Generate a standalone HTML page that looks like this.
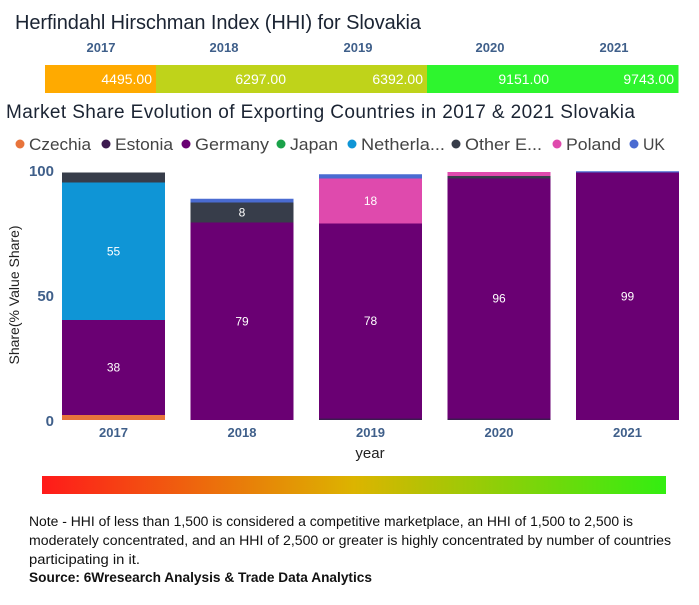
<!DOCTYPE html>
<html><head><meta charset="utf-8"><style>
body{margin:0;width:699px;height:600px;background:#fff;font-family:"Liberation Sans",sans-serif;overflow:hidden}
svg text{font-family:"Liberation Sans",sans-serif}
</style></head><body>
<svg id="c" width="699" height="600">
<text x="15" y="29" font-size="20" fill="#1b2433" textLength="406">Herfindahl Hirschman Index (HHI) for Slovakia</text>
<g id="hhi"></g>
<text x="6" y="118" font-size="19" fill="#1b2433" textLength="629">Market Share Evolution of Exporting Countries in 2017 &amp; 2021 Slovakia</text>
<g id="legend"></g>
<g id="plot"></g>
<text transform="translate(19,295) rotate(-90)" text-anchor="middle" font-size="14" fill="#222">Share(% Value Share)</text>
<text x="370" y="458" text-anchor="middle" font-size="15" fill="#222">year</text>
<defs><linearGradient id="g" x1="0" x2="1"><stop offset="0" stop-color="#ff1a1a"/><stop offset="0.5" stop-color="#dcb400"/><stop offset="1" stop-color="#33ee11"/></linearGradient></defs>
<rect x="42" y="476" width="624" height="18" fill="url(#g)"/>
<text font-size="13.5" fill="#111"><tspan x="29" y="526" textLength="604" lengthAdjust="spacingAndGlyphs">Note - HHI of less than 1,500 is considered a competitive marketplace, an HHI of 1,500 to 2,500 is</tspan><tspan x="29" y="545" textLength="642" lengthAdjust="spacingAndGlyphs">moderately concentrated, and an HHI of 2,500 or greater is highly concentrated by number of countries</tspan><tspan x="29" y="564" textLength="111" lengthAdjust="spacingAndGlyphs">participating in it.</tspan></text>
<text x="29" y="582" font-size="13.5" font-weight="bold" fill="#111" textLength="343" lengthAdjust="spacingAndGlyphs">Source: 6Wresearch Analysis &amp; Trade Data Analytics</text>
</svg>
<script>
const years=["2017","2018","2019","2020","2021"];
const hhiValues=[4495,6297,6392,9151,9743];
const series=["Czechia","Estonia","Germany","Japan","Netherla...","Other E...","Poland","UK"];
const colors=["#e8743b","#3c1a4f","#6a0073","#1aa24a","#0f95d6","#373d4a","#df4aad","#4a6bd1"];
const czechia=[2,0,0,0,0];
const estonia=[0,0,0.6,0.6,0];
const germany=[38,79,78,96,99];
const japan=[0,0,0,0,0];
const netherlands=[55,0,0,0,0];
const other=[4,8,0,1,0];
const poland=[0,0,18,1.6,0];
const uk=[0,1.5,1.7,0,0.5];
const labelThreshold=5;
const NS="http://www.w3.org/2000/svg";
function mk(t,a,p){const e=document.createElementNS(NS,t);for(const k in a)e.setAttribute(k,a[k]);p.appendChild(e);return e;}
const hhi=document.getElementById('hhi');
const sx0=45;
function hhiColor(v){return v<5000?"#ffaa00":v<8000?"#bfd31a":"#2ef52e";}
const hx=[156,290,427,553,678];
const hyl=[101,224,358,490,614];
years.forEach((y,i)=>{
 const x0=i?hx[i-1]:sx0, x1=hx[i];
 const r=mk('rect',{x:x0,y:65,width:x1-x0+0.5,height:28,fill:hhiColor(hhiValues[i])},hhi);
 
 
 const t=mk('text',{x:x1-4,y:84,'text-anchor':'end','font-size':14,fill:'#fff'},hhi);t.textContent=hhiValues[i].toFixed(2);
 
 
 const yl=mk('text',{x:hyl[i],y:52,'text-anchor':'middle','font-size':13,'font-weight':'bold',fill:'#3f5f8a'},hhi);yl.textContent=y;
 
 
});
const lg=document.getElementById('legend');
const lx=[20,106,186,281,352,456,557,634];
const lw=[62,58,74,48,84,77,55,22];
series.forEach((s,i)=>{
 const g=mk('g',{},lg);
 
 
 mk('circle',{cx:lx[i],cy:144,r:4.5,fill:colors[i]},g);
 const t=mk('text',{x:lx[i]+9,y:150,'font-size':17,fill:'#444',textLength:lw[i],lengthAdjust:'spacingAndGlyphs'},g);t.textContent=s;
});
const plot=document.getElementById('plot');
const y0=420,pxPer=2.5,barX0=62,pitch=128.5,barW=103;
const ys=v=>y0-v*pxPer;
const xs=i=>barX0+i*pitch;
[0,50,100].forEach(v=>{const t=mk('text',{x:54,y:ys(v)+6,'text-anchor':'end','font-size':15,'font-weight':'bold',fill:'#3f5f8a'},plot);t.textContent=v;
 
 });
const data=[czechia,estonia,germany,japan,netherlands,other,poland,uk];
years.forEach((y,i)=>{
 let acc=0;
 data.forEach((arr,k)=>{
  const v=arr[i]; if(!v)return;
  const r=mk('rect',{x:xs(i),y:ys(acc+v),width:barW,height:v*pxPer,fill:colors[k]},plot);
  
  
  if(v>=labelThreshold){const t=mk('text',{x:xs(i)+barW/2,y:ys(acc+v/2)+4,'text-anchor':'middle','font-size':12,fill:'#fff'},plot);t.textContent=Math.round(v);
   
   }
  acc+=v;
 });
 const t=mk('text',{x:xs(i)+barW/2,y:437,'text-anchor':'middle','font-size':13,'font-weight':'bold',fill:'#3f5f8a'},plot);t.textContent=y;
 
 
});
</script>
</body></html>
